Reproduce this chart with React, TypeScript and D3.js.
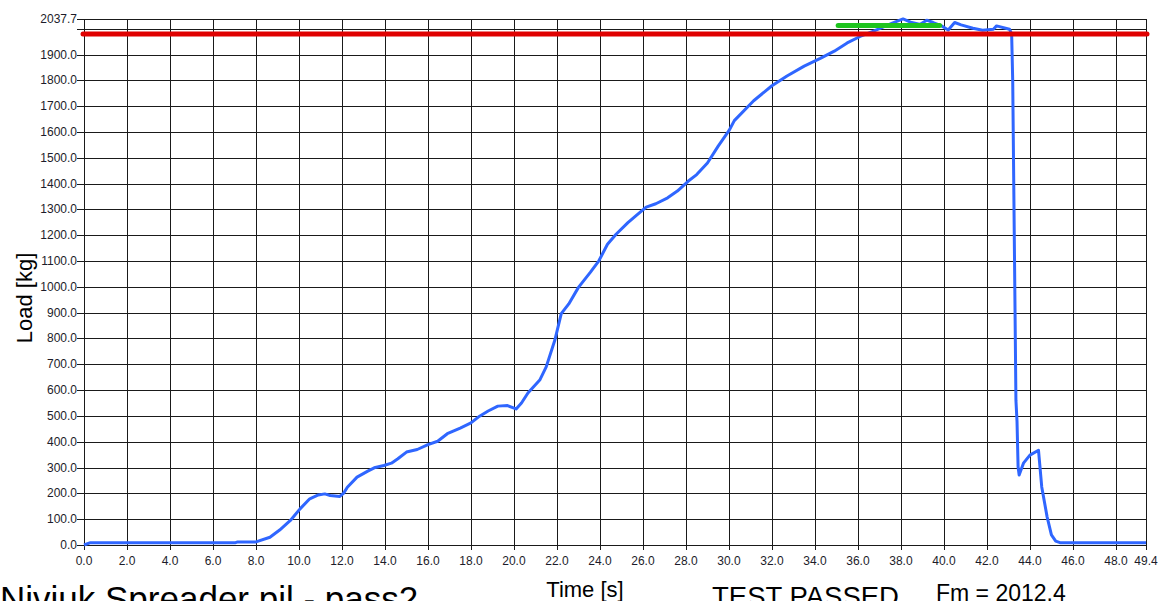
import React from "react";
import * as d3 from "d3";

// load curve
const time = [
  0, 0.3, 7.05, 7.15, 8.0, 8.65, 9.1, 9.6, 10.05, 10.5, 10.9, 11.2, 11.45, 11.9,
  12.08, 12.25, 12.7, 13.2, 13.5, 13.95, 14.3, 14.6, 15.0, 15.5, 16.0, 16.45,
  16.9, 17.5, 18.0, 18.4, 18.8, 19.25, 19.7, 20.1, 20.35, 20.65, 21.2, 21.5,
  21.9, 22.2, 22.55, 23.0, 23.55, 23.95, 24.35, 24.75, 25.3, 25.75, 26.15, 26.6,
  27.15, 27.6, 28.1, 28.5, 29.0, 29.5, 30.0, 30.25, 31.15, 32.0, 32.7, 33.5,
  34.25, 34.9, 35.5, 36.1, 36.7, 37.0, 37.6, 38.1, 38.5, 38.9, 39.2, 39.5, 39.9,
  40.2, 40.5, 40.8, 41.35, 41.8, 42.3, 42.45, 43.05, 43.15, 43.2, 43.35, 43.4,
  43.45, 43.5, 43.7, 44.0, 44.4, 44.55, 44.8, 45.0, 45.2, 45.4, 49.4,
];
const load = [
  0, 9, 9, 12, 12, 30, 58, 95, 140, 179, 194, 198, 192, 188, 201, 224, 263, 286,
  299, 308, 317, 334, 360, 370, 389, 402, 431, 453, 473, 499, 519, 538, 540, 527,
  550, 589, 639, 690, 793, 896, 934, 998, 1056, 1101, 1165, 1204, 1249, 1281,
  1309, 1322, 1345, 1371, 1409, 1435, 1480, 1545, 1605, 1644, 1721, 1779, 1817,
  1855, 1885, 1913, 1945, 1970, 1990, 2000, 2022, 2038, 2024, 2017, 2033, 2024,
  2011, 1995, 2024, 2015, 2002, 1994, 1998, 2011, 1998, 1980, 1800, 560, 480,
  303, 271, 317, 348, 367, 225, 109, 39, 15, 9, 9,
];

const limitLoad = 1980;
const fm = 2012.4;
const fmSpan = [35.08, 39.8];

const xTicks = [...d3.range(0, 49, 2), 49.4];
const yTicks = [...d3.range(0, 2001, 100), 2037.7];
const yLabelSkip = [2000];

const xMax = 49.4;
const yMax = 2037.7;

export default function App() {
  const left = 84, right = 1146, top = 19, bottom = 545;
  const x = d3.scaleLinear().domain([0, xMax]).range([left, right]);
  const y = d3.scaleLinear().domain([0, yMax]).range([bottom, top]);
  const px = (v: number) => Math.round(v) + 0.5;

  const pts = time.map((t, i) => [t, load[i]] as [number, number]);
  const line = d3.line<[number, number]>().x((d) => x(d[0])).y((d) => y(d[1]));

  const tickFont = "'Liberation Sans', Arial, sans-serif";

  return (
    <svg
      width={1161}
      height={601}
      style={{ position: "absolute", left: 0, top: 0, background: "#fff" }}
    >
      <g shapeRendering="crispEdges" stroke="#1a1a1a" strokeWidth={1}>
        {xTicks.map((t) => (
          <line key={"gx" + t} x1={px(x(t))} x2={px(x(t))} y1={px(y(yMax))} y2={bottom + 5} />
        ))}
        {yTicks.map((v) => (
          <line key={"gy" + v} x1={left - 7} x2={px(x(xMax))} y1={px(y(v))} y2={px(y(v))} />
        ))}
      </g>
      <g fontFamily={tickFont} fontSize={12} fill="#1c1c2a">
        {xTicks.map((t) => (
          <text key={"tx" + t} x={x(t)} y={565} textAnchor="middle">
            {t.toFixed(1)}
          </text>
        ))}
        {yTicks
          .filter((v) => !yLabelSkip.includes(v))
          .map((v) => (
            <text key={"ty" + v} x={77} y={y(v) + 4} textAnchor="end">
              {v.toFixed(1)}
            </text>
          ))}
      </g>

      <path
        d={line(pts) || ""}
        fill="none"
        stroke="#2f66ff"
        strokeWidth={3}
        strokeLinejoin="round"
      />
      <line
        x1={x(0) - 1}
        x2={x(xMax) + 1}
        y1={y(limitLoad)}
        y2={y(limitLoad)}
        stroke="#e00000"
        strokeWidth={5}
        strokeLinecap="round"
      />
      <line
        x1={x(fmSpan[0])}
        x2={x(fmSpan[1])}
        y1={y(fm)}
        y2={y(fm)}
        stroke="#1ec41e"
        strokeWidth={5}
        strokeLinecap="round"
      />

      <text
        transform={`translate(32,${(top + bottom) / 2 + 16}) rotate(-90)`}
        textAnchor="middle"
        fontFamily="'Liberation Sans', Arial, sans-serif"
        fontSize={22}
        fill="#000"
      >
        Load [kg]
      </text>
      <text
        x={585}
        y={597}
        textAnchor="middle"
        fontFamily="'Liberation Sans', Arial, sans-serif"
        fontSize={22}
        fill="#000"
      >
        Time [s]
      </text>
      <text x={0} y={611} fontFamily="'Liberation Sans', Arial, sans-serif" fontSize={35} fill="#000">
        Niviuk Spreader pil - pass2
      </text>
      <text x={712} y={606} fontFamily="'Liberation Sans', Arial, sans-serif" fontSize={27.5} fill="#000">
        TEST PASSED
      </text>
      <text x={936} y={601} fontFamily="'Liberation Sans', Arial, sans-serif" fontSize={23} fill="#000">
        Fm = 2012.4
      </text>
    </svg>
  );
}
